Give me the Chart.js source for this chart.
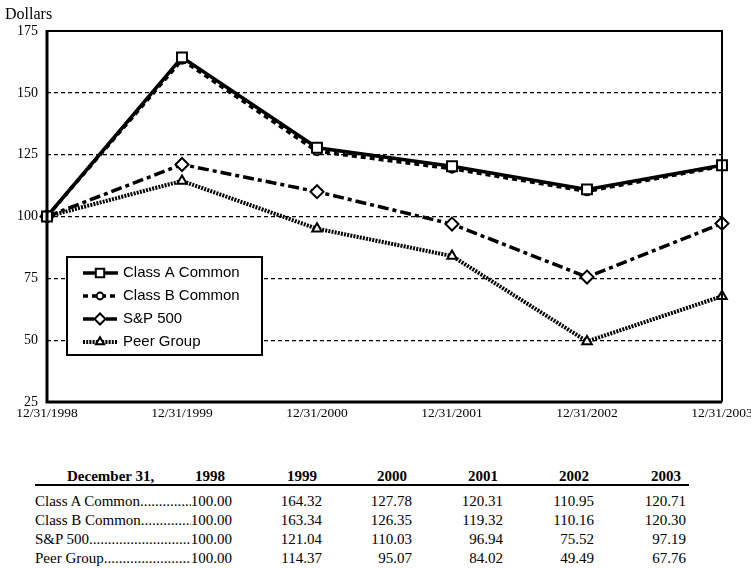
<!DOCTYPE html>
<html>
<head>
<meta charset="utf-8">
<script src="https://cdn.jsdelivr.net/npm/chart.js@4/dist/chart.umd.min.js"></script>
<style>
  body { margin: 0; background: #fff; }
  #wrap { position: relative; width: 751px; height: 568px; font-family: "Liberation Serif", "Times New Roman", serif; color: #000; }
  #chart-box { position: absolute; left: 0; top: 0; width: 751px; height: 430px; }
  .cell { position: absolute; font-size: 15px; white-space: nowrap; line-height: 19px; }
  .hdr { font-weight: bold; }
  .rule { position: absolute; left: 35px; width: 654px; top: 484px; height: 2px; background: #000; }
  .lbl { position: absolute; left: 35px; width: 197px; display: flex; font-size: 15px; line-height: 19px; white-space: nowrap; }
  .lbl .dots { flex: 1; overflow: hidden; }
</style>
</head>
<body>
<div id="wrap">
  <div id="chart-box"><canvas id="chart" width="751" height="430"></canvas></div>
  <div id="table"></div>
</div>
<script>
var years = ["1998", "1999", "2000", "2001", "2002", "2003"];
var xLabels = ["12/31/1998", "12/31/1999", "12/31/2000", "12/31/2001", "12/31/2002", "12/31/2003"];
var seriesNames = ["Class A Common", "Class B Common", "S&P 500", "Peer Group"];
var classA = [100.00, 164.32, 127.78, 120.31, 110.95, 120.71];
var classB = [100.00, 163.34, 126.35, 119.32, 110.16, 120.30];
var sp500 = [100.00, 121.04, 110.03, 96.94, 75.52, 97.19];
var peer = [100.00, 114.37, 95.07, 84.02, 49.49, 67.76];
var yTicks = [25, 50, 75, 100, 125, 150, 175];

// line looks, same order as seriesNames
var styles = [
  { dash: [], point: 'rect', radius: 7, width: 3.5 },
  { dash: [5, 4], point: 'circle', radius: 4, width: 3.5 },
  { dash: [11, 4, 4, 4], point: 'rectRot', radius: 6.5, width: 3.5 },
  { dash: [2, 1.2], point: 'triangle', radius: 5.5, width: 4 }
];
var allSeries = [classA, classB, sp500, peer];

function makeDataset(i) {
  return {
    label: seriesNames[i],
    data: allSeries[i],
    borderColor: '#000',
    borderWidth: styles[i].width,
    borderDash: styles[i].dash,
    pointStyle: styles[i].point,
    pointRadius: styles[i].radius,
    pointBorderWidth: 2,
    pointBackgroundColor: '#fff',
    pointBorderColor: '#000',
    tension: 0,
    fill: false,
    clip: false,
    order: i == 0 ? 0 : i + 1
  };
}

var framePlugin = {
  id: 'frame',
  afterDraw: function(chart) {
    let ctx = chart.ctx;
    let a = chart.chartArea;
    ctx.save();
    ctx.strokeStyle = '#000';
    // top and right border
    ctx.lineWidth = 2;
    ctx.beginPath();
    ctx.moveTo(a.left, a.top);
    ctx.lineTo(a.right, a.top);
    ctx.lineTo(a.right, a.bottom);
    ctx.stroke();
    ctx.lineWidth = 3;
    ctx.beginPath();
    ctx.moveTo(a.left, a.top - 1);
    ctx.lineTo(a.left, a.bottom);
    ctx.lineTo(a.right, a.bottom);
    ctx.stroke();

    // Dollars label
    ctx.fillStyle = '#000';
    ctx.font = '16px "Liberation Serif"';
    ctx.textBaseline = 'alphabetic';
    ctx.textAlign = 'left';
    ctx.fillText('Dollars', 5, 19);

    // legend box
    let bx = 67, by = 257, bw = 195, bh = 98;
    ctx.fillStyle = '#fff';
    ctx.fillRect(bx, by, bw, bh);
    ctx.lineWidth = 2;
    ctx.strokeRect(bx, by, bw, bh);
    ctx.font = '15px "Liberation Sans"';
    ctx.textBaseline = 'middle';
    for (let i = 0; i < seriesNames.length; i++) {
      let yy = by + 16 + i * 23;
      ctx.save();
      ctx.lineWidth = styles[i].width;
      ctx.setLineDash(styles[i].dash);
      ctx.beginPath();
      ctx.moveTo(83, yy);
      ctx.lineTo(118, yy);
      ctx.stroke();
      ctx.restore();
      ctx.save();
      ctx.fillStyle = '#fff';
      ctx.lineWidth = 2;
      Chart.helpers.drawPoint(ctx, { pointStyle: styles[i].point, radius: styles[i].radius * 0.85, borderWidth: 2 }, 100, yy);
      ctx.restore();
      ctx.fillStyle = '#000';
      ctx.fillText(seriesNames[i], 123, yy);
    }
    ctx.restore();
  }
};

var datasets = [];
for (let i = 0; i < allSeries.length; i++) datasets.push(makeDataset(i));

new Chart(document.getElementById('chart').getContext('2d'), {
  type: 'line',
  data: { labels: xLabels, datasets: datasets },
  options: {
    responsive: false,
    animation: false,
    layout: { padding: { top: 31, right: 29, left: 0, bottom: 0 } },
    plugins: { legend: { display: false }, tooltip: { enabled: false } },
    scales: {
      x: {
        offset: false,
        grid: { display: false, drawTicks: false },
        border: { display: false },
        ticks: { color: '#000', font: { family: 'Liberation Serif', size: 13.5 }, padding: 3, maxRotation: 0, autoSkip: false },
        afterFit: function(s) { s.height = 28; s.paddingLeft = 0; s.paddingRight = 0; }
      },
      y: {
        min: 25,
        max: 175,
        afterBuildTicks: function(s) { s.ticks = yTicks.map(function(v) { return { value: v }; }); },
        grid: {
          drawTicks: false,
          color: function(c) { return (c.tick && (c.tick.value == 25 || c.tick.value == 175)) ? 'rgba(0,0,0,0)' : '#000'; },
          lineWidth: 1.3
        },
        border: { display: false, dash: [4, 3] },
        ticks: { color: '#000', font: { family: 'Liberation Serif', size: 14 }, padding: 9 },
        afterFit: function(s) { s.width = 47; s.paddingTop = 0; s.paddingBottom = 0; }
      }
    }
  },
  plugins: [framePlugin]
});

// data table under the chart
var tableRows = [classA, classB, sp500, peer];
var colRight = [232, 322, 412, 503, 594, 686];
var rowTop = [492, 511, 530, 549];
var table = document.getElementById('table');

function addCell(text, right, top, cls) {
  let d = document.createElement('div');
  d.className = 'cell ' + (cls || '');
  d.textContent = text;
  d.style.top = top + 'px';
  d.style.right = (751 - right) + 'px';
  table.appendChild(d);
  return d;
}

let head = document.createElement('div');
head.className = 'cell hdr';
head.textContent = 'December 31,';
head.style.left = '67px';
head.style.top = '467px';
table.appendChild(head);
for (let c = 0; c < years.length; c++) {
  addCell(years[c], colRight[c] - (c == 0 ? 7 : 5), 467, 'hdr');
}
let rule = document.createElement('div');
rule.className = 'rule';
table.appendChild(rule);

for (let r = 0; r < tableRows.length; r++) {
  let lbl = document.createElement('div');
  lbl.className = 'lbl';
  lbl.style.top = rowTop[r] + 'px';
  let name = document.createElement('span');
  name.textContent = seriesNames[r];
  let dots = document.createElement('span');
  dots.className = 'dots';
  dots.textContent = '.'.repeat(80);
  let val = document.createElement('span');
  val.textContent = tableRows[r][0].toFixed(2);
  lbl.appendChild(name);
  lbl.appendChild(dots);
  lbl.appendChild(val);
  table.appendChild(lbl);
  for (let c = 1; c < years.length; c++) {
    addCell(tableRows[r][c].toFixed(2), colRight[c], rowTop[r]);
  }
}
</script>
</body>
</html>
